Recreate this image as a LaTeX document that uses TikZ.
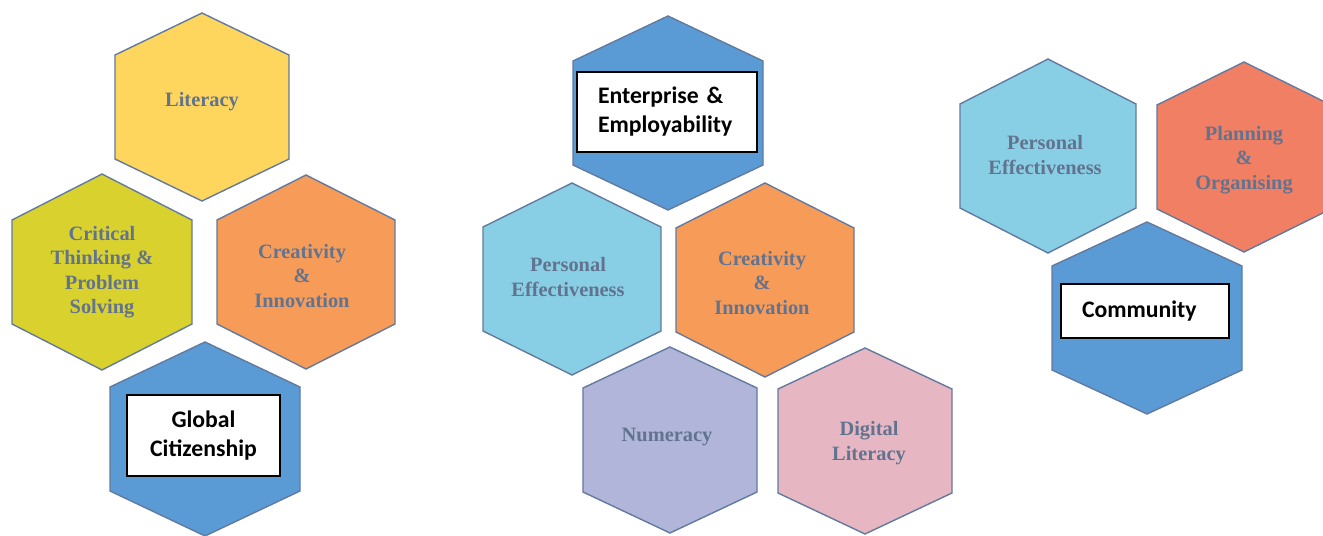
\documentclass[tikz,border=0pt]{standalone}
\usepackage{fontspec}
\usepackage{xcolor}
\usepackage{tikz}
\usetikzlibrary{shapes,positioning}
\newfontfamily\cellfont{Liberation Serif}
\newfontfamily\boxfont{Carlito}
\definecolor{hexline}{HTML}{627A9E}
\definecolor{skilltext}{HTML}{62738F}
\definecolor{litcol}{HTML}{FED65E}
\definecolor{critcol}{HTML}{D9D22E}
\definecolor{creacol}{HTML}{F79B59}
\definecolor{corecol}{HTML}{5B9BD5}
\definecolor{perscol}{HTML}{88CFE6}
\definecolor{numcol}{HTML}{B1B5D9}
\definecolor{digcol}{HTML}{E6B7C3}
\definecolor{plancol}{HTML}{F07F64}
\tikzstyle{cell} = [draw=hexline, line width=0.8pt]
\tikzstyle{skill} = [align=center, text=skilltext, inner sep=0pt, font=\cellfont\bfseries\fontsize{11.6}{13.9}\selectfont]
\tikzstyle{focus} = [rectangle, draw, line width=1.1pt, fill=white, inner xsep=0.42cm, font=\boxfont\bfseries\fontsize{13.5}{16.5}\selectfont]
% hexagon: centre x, centre y, half width, half height, fill
\newcommand{\hexcell}[5]{\filldraw[cell, fill=#5] (#1,#2) +(0,-#4) -- +(#3,-52) -- +(#3,52) -- +(0,#4) -- +(-#3,52) -- +(-#3,-52) -- cycle;}

\begin{document}
\begin{tikzpicture}[x=0.02cm, y=-0.02cm]
  \useasboundingbox (0,0) rectangle (1323,535);
  % global citizenship
  \hexcell{202}{107}{87}{94}{litcol}
  \hexcell{102}{272}{90}{98}{critcol}
  \hexcell{306}{272}{89}{97}{creacol}
  \hexcell{205}{439}{95}{97}{corecol}
  \node[skill] (lit) at (202,102) {Literacy};
  \node[skill] (crit) at (102,272) {Critical\\Thinking \&\\Problem\\Solving};
  \node[skill] (crea) at (302,276) {Creativity\\\&\\Innovation};
  \node[focus, minimum width=3.06cm, minimum height=1.62cm, align=center] (glob) at (203.5,435.5) {Global\\Citizenship};
  % enterprise
  \hexcell{668}{113}{95}{97}{corecol}
  \hexcell{572}{279}{89}{96}{perscol}
  \hexcell{765}{280}{89}{97}{creacol}
  \hexcell{670}{440}{87}{93}{numcol}
  \hexcell{865}{441}{87}{93}{digcol}
  \node[focus, text width=2.76cm, minimum height=1.6cm, align=left] (ent) at (667,112) {Enterprise \&\\Employability};
  \node[skill] (pers) at (568,277) {Personal\\Effectiveness};
  \node[skill] (crea2) at (762,283) {Creativity\\\&\\Innovation};
  \node[skill] (num) at (667,437) {Numeracy};
  \node[skill] (dig) at (869,443) {Digital\\Literacy};
  % community
  \hexcell{1048}{156}{88}{97}{perscol}
  \hexcell{1244}{157}{87}{95}{plancol}
  \hexcell{1147}{318}{95}{96}{corecol}
  \node[skill] (pers3) at (1045,155) {Personal\\Effectiveness};
  \node[skill] (plan) at (1244,160) {Planning\\\&\\Organising};
  \node[focus, text width=2.52cm, minimum height=1.08cm, align=left] (comm) at (1145,311) {Community};
\end{tikzpicture}
\end{document}
